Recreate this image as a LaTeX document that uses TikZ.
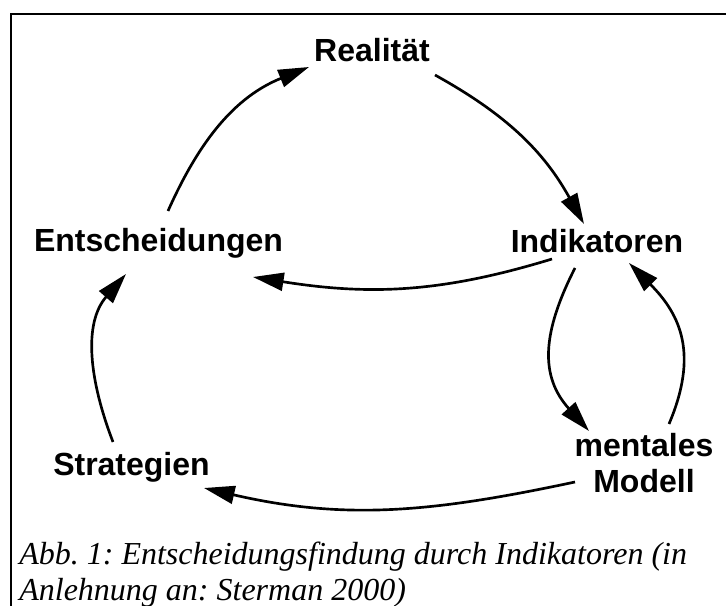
\documentclass[tikz,border=0pt]{standalone}
\usepackage{fontspec}
\setmainfont{Liberation Serif}
\setsansfont{Liberation Sans}
\usepackage{tikz}
\usetikzlibrary{arrows.meta}
\frenchspacing

\begin{document}
\begin{tikzpicture}[x=0.75pt,y=-0.75pt,->,>={Triangle[length=23pt,width=13.5pt]},line width=2pt,
  box/.style={font=\sffamily\bfseries\fontsize{24}{27}\selectfont,inner sep=0pt},
  captxt/.style={font=\itshape\fontsize{24}{27}\selectfont,inner sep=0pt,align=left}]
\useasboundingbox (0,0) rectangle (726,606);
\draw[-,line width=1.6pt] (10,14) -- (726,14);
\draw[-,line width=1pt] (11,14) -- (11,606);

\node[box,anchor=base] (rea) at (372,62) {Realität};
\node[box,anchor=base] (ent) at (158.5,252) {Entscheidungen};
\node[box,anchor=base] (ind) at (597,253) {Indikatoren};
\node[box,anchor=base] (str) at (131.5,476) {Strategien};
\node[box,align=center] (men) at (644,463.5) {mentales\\Modell};
\node[captxt,anchor=base west] (abb) at (18,600) {Abb. 1: Entscheidungsfindung durch Indikatoren (in\\Anlehnung an: Sterman 2000)};

% Kreislauf
\draw ([shift={(9.5,-41)}]ent.base) to[out=66,in=202] ([shift={(-63,5)}]rea.base);
\draw ([shift={(63,13)}]rea.base) to[out=-29,in=119] ([shift={(-13,-29)}]ind.base);
\draw ([shift={(-45,6)}]ind.base) to[out=197,in=-9] ([shift={(94.5,25)}]ent.base);
\draw ([shift={(-22,15)}]ind.base) to[out=243,in=132,looseness=1.15] ([shift={(-55,-32.5)}]men.center);
\draw ([shift={(25,-39.5)}]men.center) to[out=67,in=-45,looseness=1.15] ([shift={(32,10)}]ind.base);
\draw ([shift={(-69,18.5)}]men.center) to[out=192,in=-13] ([shift={(72.5,12)}]str.base);
\draw ([shift={(-18.5,-34)}]str.base) to[out=111,in=229] ([shift={(-32.5,22)}]ent.base);
\end{tikzpicture}
\end{document}
